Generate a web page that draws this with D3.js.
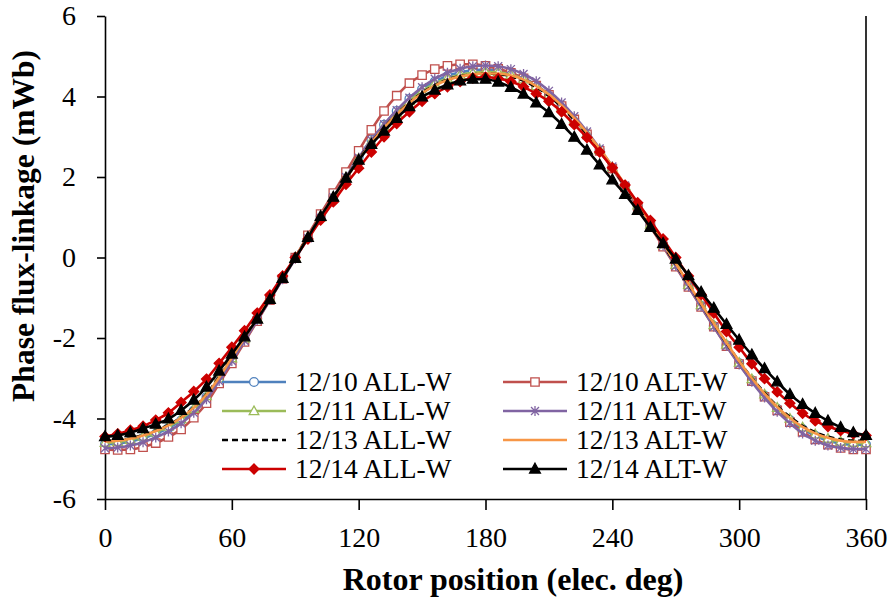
<!DOCTYPE html>
<html>
<head>
<meta charset="utf-8">
<script src="https://cdnjs.cloudflare.com/ajax/libs/d3/7.8.5/d3.min.js"></script>
<style>
body { margin: 0; background: #fff; }
svg text { font-family: "Liberation Serif", "Times New Roman", serif; fill: #000; }
</style>
</head>
<body>
<svg id="mysvg" width="892" height="600"></svg>
<script>
// rotor position, elec. deg
var angles = [0,6,12,18,24,30,36,42,48,54,60,66,72,78,84,90,96,102,108,114,120,126,132,138,144,150,156,162,168,174,
	180,186,192,198,204,210,216,222,228,234,240,246,252,258,264,270,276,282,288,294,300,306,312,318,324,330,336,342,348,354,360];
var xTicks = [0,60,120,180,240,300,360];
var yTicks = [-6,-4,-2,0,2,4,6];

// phase flux-linkage, mWb
var all1210 = [-4.64,-4.62,-4.57,-4.49,-4.38,-4.24,-4.05,-3.80,-3.47,-3.02,
	-2.52,-2.02,-1.52,-1.02,-0.51,0.00,0.51,1.02,1.52,2.02,
	2.50,2.93,3.30,3.64,3.94,4.18,4.37,4.51,4.60,4.65,
	4.67,4.65,4.58,4.46,4.28,4.05,3.77,3.44,3.07,2.66,
	2.22,1.76,1.28,0.80,0.30,-0.20,-0.70,-1.20,-1.70,-2.18,
	-2.63,-3.05,-3.43,-3.76,-4.04,-4.26,-4.43,-4.55,-4.62,-4.65,-4.65];
var alt1210 = [-4.77,-4.78,-4.77,-4.71,-4.61,-4.46,-4.27,-3.98,-3.62,-3.13,
	-2.63,-2.10,-1.58,-1.06,-0.53,0.00,0.55,1.08,1.60,2.12,
	2.65,3.17,3.64,4.02,4.33,4.53,4.68,4.76,4.80,4.80,
	4.76,4.69,4.59,4.45,4.27,4.04,3.76,3.43,3.06,2.65,
	2.21,1.74,1.26,0.77,0.27,-0.23,-0.73,-1.23,-1.72,-2.20,
	-2.65,-3.07,-3.46,-3.80,-4.09,-4.33,-4.52,-4.65,-4.73,-4.77,-4.77];
var all1211 = [-4.60,-4.58,-4.53,-4.45,-4.34,-4.20,-4.01,-3.76,-3.44,-3.00,
	-2.50,-2.01,-1.51,-1.01,-0.51,0.00,0.50,1.00,1.50,1.99,
	2.46,2.89,3.26,3.59,3.89,4.13,4.32,4.45,4.54,4.59,
	4.61,4.60,4.54,4.43,4.26,4.04,3.76,3.44,3.08,2.68,
	2.24,1.78,1.30,0.82,0.32,-0.18,-0.68,-1.18,-1.68,-2.16,
	-2.61,-3.02,-3.40,-3.73,-4.00,-4.22,-4.39,-4.50,-4.57,-4.60,-4.61];
var alt1211 = [-4.74,-4.72,-4.67,-4.59,-4.47,-4.32,-4.12,-3.86,-3.52,-3.07,
	-2.57,-2.07,-1.56,-1.05,-0.54,-0.03,0.48,0.99,1.50,2.00,
	2.48,2.92,3.31,3.66,3.97,4.23,4.44,4.59,4.69,4.75,
	4.77,4.75,4.68,4.56,4.38,4.14,3.85,3.51,3.13,2.71,
	2.26,1.79,1.30,0.81,0.30,-0.21,-0.72,-1.22,-1.72,-2.20,
	-2.66,-3.09,-3.48,-3.83,-4.12,-4.37,-4.55,-4.67,-4.73,-4.76,-4.76];
var all1213 = [-4.56,-4.54,-4.49,-4.41,-4.30,-4.16,-3.97,-3.72,-3.40,-2.96,
	-2.47,-1.98,-1.49,-0.99,-0.49,0.01,0.51,1.00,1.49,1.97,
	2.44,2.86,3.23,3.56,3.85,4.09,4.28,4.42,4.51,4.55,
	4.57,4.56,4.50,4.39,4.23,4.01,3.74,3.42,3.06,2.66,
	2.23,1.77,1.30,0.82,0.32,-0.17,-0.67,-1.16,-1.65,-2.13,
	-2.58,-2.99,-3.36,-3.69,-3.96,-4.18,-4.34,-4.45,-4.52,-4.55,-4.56];
var alt1213 = [-4.57,-4.55,-4.50,-4.42,-4.31,-4.17,-3.98,-3.73,-3.41,-2.98,
	-2.49,-2.00,-1.50,-1.00,-0.50,0.00,0.50,0.99,1.48,1.96,
	2.42,2.85,3.22,3.55,3.84,4.08,4.27,4.41,4.50,4.55,
	4.57,4.57,4.52,4.42,4.26,4.05,3.78,3.46,3.10,2.70,
	2.27,1.81,1.33,0.85,0.35,-0.15,-0.65,-1.15,-1.64,-2.12,
	-2.58,-3.00,-3.38,-3.71,-3.99,-4.21,-4.37,-4.48,-4.55,-4.58,-4.58];
var all1214 = [-4.45,-4.38,-4.29,-4.19,-4.04,-3.86,-3.60,-3.33,-3.02,-2.63,
	-2.23,-1.82,-1.38,-0.93,-0.46,0.00,0.46,0.93,1.38,1.82,
	2.22,2.62,3.00,3.33,3.62,3.88,4.07,4.24,4.37,4.46,
	4.48,4.45,4.37,4.24,4.07,3.88,3.62,3.30,2.98,2.62,
	2.23,1.80,1.36,0.92,0.46,0.00,-0.46,-0.92,-1.38,-1.84,
	-2.23,-2.64,-3.01,-3.34,-3.62,-3.87,-4.06,-4.20,-4.30,-4.38,-4.42];
var alt1214 = [-4.45,-4.42,-4.35,-4.25,-4.14,-4.01,-3.80,-3.54,-3.22,-2.82,
	-2.40,-1.97,-1.53,-1.04,-0.52,-0.02,0.50,1.02,1.50,1.97,
	2.42,2.81,3.14,3.46,3.75,3.99,4.16,4.29,4.39,4.43,
	4.43,4.36,4.23,4.06,3.84,3.60,3.31,2.99,2.67,2.30,
	1.93,1.57,1.17,0.75,0.35,-0.04,-0.45,-0.86,-1.26,-1.66,
	-2.05,-2.42,-2.76,-3.09,-3.40,-3.65,-3.87,-4.06,-4.22,-4.35,-4.42];

var seriesNames = ["12/10 ALL-W","12/10 ALT-W","12/11 ALL-W","12/11 ALT-W","12/13 ALL-W","12/13 ALT-W","12/14 ALL-W","12/14 ALT-W"];
var seriesValues = [all1210, alt1210, all1211, alt1211, all1213, alt1213, all1214, alt1214];

// looks
var seriesColors = ["#4F81BD","#C0504D","#9BBB59","#8064A2","#000000","#F79646","#CC0000","#000000"];
var seriesMarkers = ["circle","square","triangle","star","none","none","diamond","filltriangle"];

var svg = d3.select("#mysvg");
var x = d3.scaleLinear().domain([0 , 360]).range([105 , 866]);
var y = d3.scaleLinear().domain([-6 , 6]).range([499 , 16]);

function markerPath (kind) {
	if (kind == "circle") return d3.symbol().type(d3.symbolCircle).size(60)();
	if (kind == "square") return "M-4.2,-4.2H4.2V4.2H-4.2Z";
	if (kind == "triangle") return "M0,-5L4.8,3.6H-4.8Z";
	if (kind == "filltriangle") return "M0,-5.8L5.4,4H-5.4Z";
	if (kind == "diamond") return "M0,-5L5,0L0,5L-5,0Z";
	if (kind == "star") return "M-4,-4L4,4M-4,4L4,-4M0,-5L0,5";
	return "";
}

function drawMarker (g , kind , color , cx , cy) {
	if (kind == "none") return;
	var filled = (kind == "diamond" || kind == "filltriangle");
	g.append("path")
		.attr("d" , markerPath(kind))
		.attr("transform" , "translate(" + cx + "," + cy + ")")
		.attr("fill" , filled ? color : (kind == "star" ? "none" : "#fff"))
		.attr("stroke" , color)
		.attr("stroke-width" , 1.3);
}

// axes
var xAxis = d3.axisBottom(x).tickValues(xTicks).tickSize(11).tickSizeOuter(0).tickPadding(17);
var gx = svg.append("g").attr("transform" , "translate(0," + 499 + ")").call(xAxis);
gx.selectAll("text").attr("font-size" , 28).attr("font-family" , "Liberation Serif");

var yAxis = d3.axisLeft(y).tickValues(yTicks).tickSize(8).tickSizeOuter(0).tickPadding(21).tickFormat(function (d) { return String(d); });
var gy = svg.append("g").attr("transform" , "translate(" + 105 + ",0)").call(yAxis);
gy.selectAll("text").attr("font-size" , 28).attr("font-family" , "Liberation Serif");

svg.selectAll(".domain , .tick line").attr("stroke" , "#000").attr("stroke-width" , 1.6);

// right frame line
svg.append("line")
	.attr("x1" , x(360)).attr("x2" , x(360))
	.attr("y1" , y(6)).attr("y2" , y(-6))
	.attr("stroke" , "#000").attr("stroke-width" , 1.6);

// series
var line = d3.line()
	.x(function (d , i) { return x(angles[i]); })
	.y(function (d) { return y(d); })
	.curve(d3.curveMonotoneX);

for (var s = 0 ; s < seriesValues.length ; ++s) {
	var g = svg.append("g");
	g.append("path")
		.attr("d" , line(seriesValues[s]))
		.attr("fill" , "none")
		.attr("stroke" , seriesColors[s])
		.attr("stroke-width" , 2.6)
		.attr("stroke-dasharray" , s == 4 ? "6,4" : null);
	for (var i = 0 ; i < angles.length ; ++i) {
		drawMarker(g , seriesMarkers[s] , seriesColors[s] , x(angles[i]) , y(seriesValues[s][i]));
	}
}

// legend
for (var k = 0 ; k < seriesNames.length ; ++k) {
	var col = k % 2;
	var row = Math.floor(k / 2);
	var lx = col == 0 ? 222 : 503;
	var ly = 382 + row * 29;
	var lg = svg.append("g");
	lg.append("line")
		.attr("x1" , lx).attr("x2" , lx + 64)
		.attr("y1" , ly).attr("y2" , ly)
		.attr("stroke" , seriesColors[k])
		.attr("stroke-width" , 2.6)
		.attr("stroke-dasharray" , k == 4 ? "6,4" : null);
	drawMarker(lg , seriesMarkers[k] , seriesColors[k] , lx + 32 , ly);
	lg.append("text")
		.attr("x" , lx + 73)
		.attr("y" , ly + 9)
		.attr("font-size" , 27.5)
		.text(seriesNames[k]);
}

// titles
svg.append("text")
	.attr("x" , 513).attr("y" , 590)
	.attr("text-anchor" , "middle")
	.attr("font-size" , 32)
	.attr("font-weight" , "bold")
	.text("Rotor position (elec. deg)");

svg.append("text")
	.attr("transform" , "translate(34,226) rotate(-90)")
	.attr("text-anchor" , "middle")
	.attr("font-size" , 31.5)
	.attr("font-weight" , "bold")
	.text("Phase flux-linkage (mWb)");
</script>
</body>
</html>
